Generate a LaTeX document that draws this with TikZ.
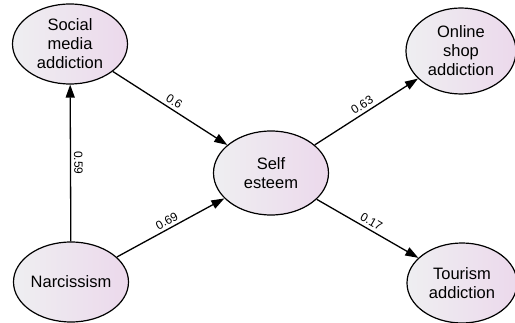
\documentclass[tikz,border=0pt]{standalone}
\usepackage{fontspec}
\setmainfont{Liberation Sans}
\usepackage{tikz}
\usetikzlibrary{arrows.meta,shapes.geometric}

\begin{document}
\begin{tikzpicture}[x=1pt,y=-1pt,
		latent/.style={ellipse, draw, line width=1.2pt, inner sep=0pt,
			minimum width=115pt, minimum height=80pt, align=center,
			left color=blue!8!gray!12!white, right color=violet!15!white,
			font=\fontsize{16.5}{19}\selectfont},
		path/.style={line width=1.3pt, -{Triangle[length=13pt,width=9pt]}},
		coef/.style={midway, above, sloped, inner sep=3pt, font=\fontsize{12}{14}\selectfont}]
		\useasboundingbox (0,0) rectangle (515,323);
		\node[latent] (social) at (70,44) {Social\\media\\addiction};
		\node[latent] (narc) at (71,282) {Narcissism};
		\node[latent, minimum height=84pt] (self) at (271,173) {Self\\esteem};
		\node[latent, minimum width=110pt, minimum height=86pt] (online) at (461,51) {Online\\shop\\addiction};
		\node[latent, minimum width=110pt] (tour) at (462,283) {Tourism\\addiction};
		\draw[path] (narc) -- node[coef] {0.59} (social);
		\draw[path] (social) -- node[coef] {0.6} (self);
		\draw[path] (narc) -- node[coef] {0.69} (self);
		\draw[path] (self) -- node[coef] {0.63} (online);
		\draw[path] (self) -- node[coef] {0.17} (tour);
	\end{tikzpicture}
\end{document}
